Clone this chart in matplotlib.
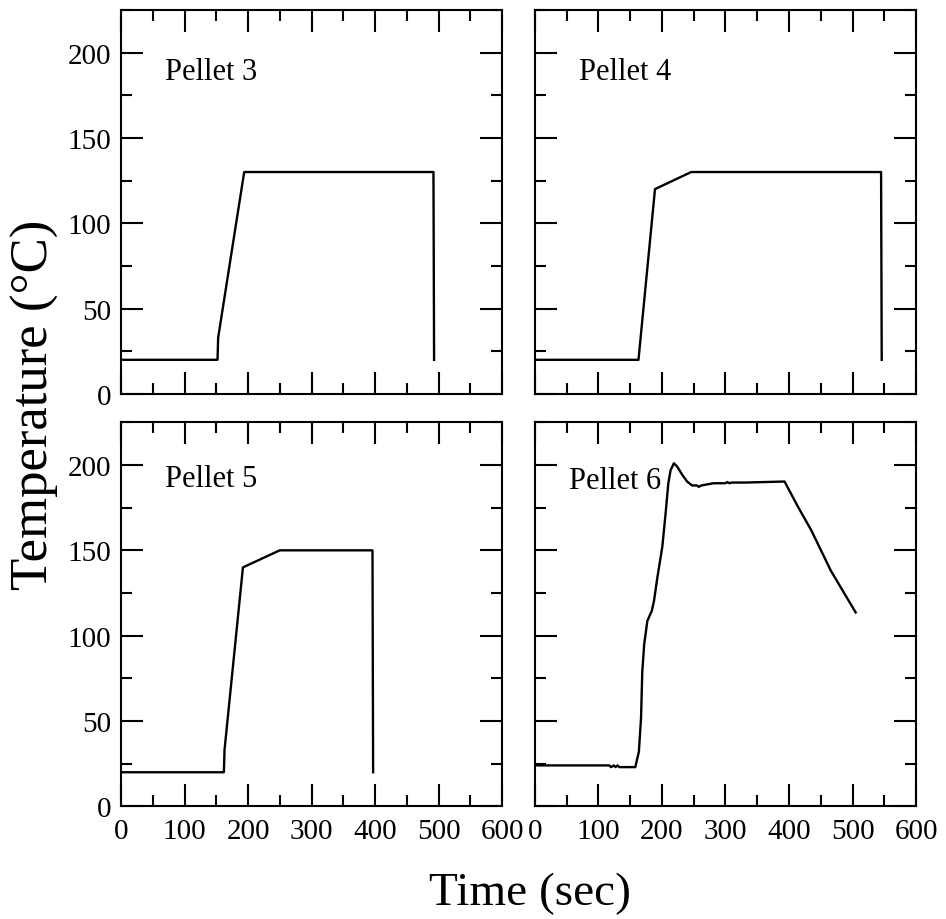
import matplotlib
matplotlib.use('Agg')
import matplotlib.pyplot as plt
from matplotlib.ticker import MultipleLocator

plt.rcParams['font.family'] = ['Liberation Serif', 'DejaVu Serif']

# temperature traces (time in sec, temperature in C)
t3 = [0, 152, 153, 194, 492, 493]
T3 = [20, 20, 33, 130, 130, 20]

t4 = [0, 163, 189, 246, 545, 546]
T4 = [20, 20, 120, 130, 130, 20]

t5 = [0, 162, 163, 192, 250, 396, 397]
T5 = [20, 20, 33, 140, 150, 150, 20]

t6 = [0, 3, 20, 117, 120, 124, 127, 130, 133, 158, 163.6, 167, 169, 172, 177, 184,
      187.5, 192.7, 200.5, 205.7, 210, 213.6, 218.8, 224, 231.8, 239.6, 247.4, 255,
      258, 262, 268, 281, 300, 303, 306, 310, 330.8, 393, 414, 435, 466, 505]
T6 = [25, 24, 24, 24, 23, 24, 23, 24, 23, 23, 32, 51.6, 79, 95, 108.7, 114.6,
      120.5, 134, 152, 171.6, 189.3, 197, 201, 199, 194.3, 190.3, 188, 188,
      187.2, 188, 188.4, 189.3, 189.3, 190, 189.3, 189.7, 189.7, 190.3, 175.6, 161.8, 138, 113.6]

labels = ['Pellet 3', 'Pellet 4', 'Pellet 5', 'Pellet 6']
label_x = [69, 69, 69, 53]
label_y = [189, 189, 192, 191]

fig = plt.figure(figsize=(9.46, 9.2), dpi=100)
w = 0.4028
h = 0.4175
positions = [[0.1279, 0.5707, w, h], [0.5655, 0.5707, w, h],
             [0.1279, 0.1224, w, h], [0.5655, 0.1224, w, h]]
series = [(t3, T3), (t4, T4), (t5, T5), (t6, T6)]

for i in range(4):
    ax = fig.add_axes(positions[i])
    ax.plot(series[i][0], series[i][1], color='black', lw=1.7)
    ax.set_xlim(0, 600)
    ax.set_ylim(0, 225)
    ax.xaxis.set_major_locator(MultipleLocator(100))
    ax.xaxis.set_minor_locator(MultipleLocator(50))
    ax.yaxis.set_major_locator(MultipleLocator(50))
    ax.yaxis.set_minor_locator(MultipleLocator(25))
    ax.tick_params(which='both', direction='in', top=True, right=True, width=1.5,
                   labelsize=21)
    ax.tick_params(axis='y', pad=7)
    ax.tick_params(axis='x', pad=8)
    ax.tick_params(which='major', length=16)
    ax.tick_params(which='minor', length=8)
    for s in ax.spines.values():
        s.set_linewidth(1.5)
    if i < 2:
        ax.tick_params(labelbottom=False)
    if i % 2 == 1:
        ax.tick_params(labelleft=False)
    ax.text(label_x[i], label_y[i], labels[i], fontsize=22, va='center')

fig.text(0.037, 0.56, 'Temperature (\u00b0C)', rotation=90, fontsize=38,
         ha='center', va='center')
fig.text(0.5607, 0.029, 'Time (sec)', fontsize=34, ha='center', va='center')

fig.savefig('out.png', dpi=100)
